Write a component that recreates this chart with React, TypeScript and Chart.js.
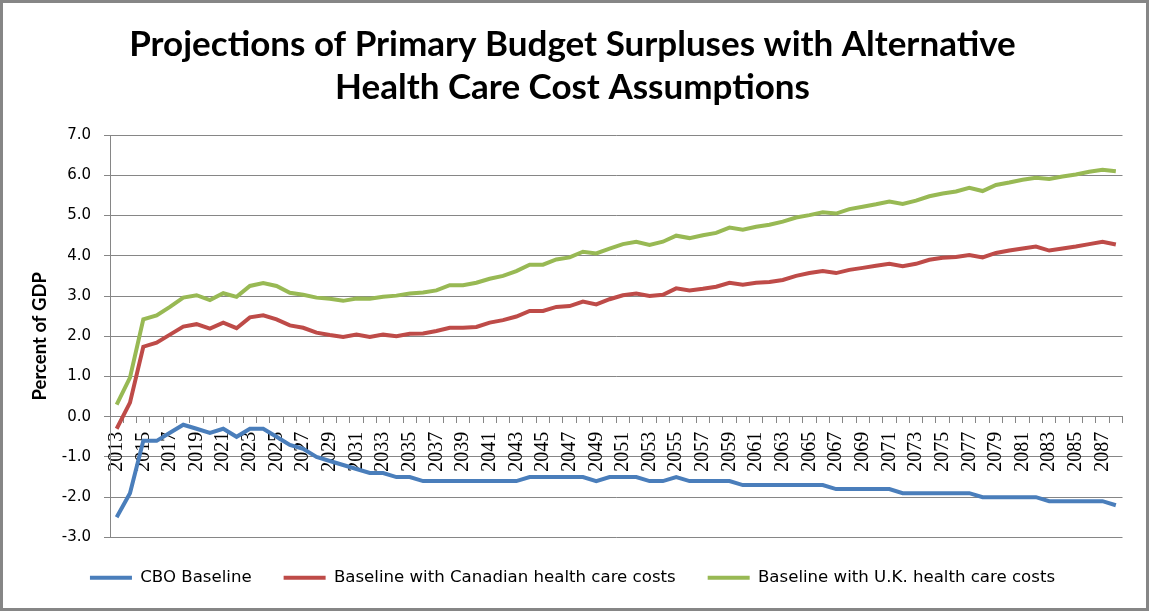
import React, { useEffect, useRef } from "react";
import { Chart, registerables } from "chart.js";

Chart.register(...registerables);

const years = [
  "2013", "2014", "2015", "2016", "2017", "2018", "2019", "2020", "2021", "2022",
  "2023", "2024", "2025", "2026", "2027", "2028", "2029", "2030", "2031", "2032",
  "2033", "2034", "2035", "2036", "2037", "2038", "2039", "2040", "2041", "2042",
  "2043", "2044", "2045", "2046", "2047", "2048", "2049", "2050", "2051", "2052",
  "2053", "2054", "2055", "2056", "2057", "2058", "2059", "2060", "2061", "2062",
  "2063", "2064", "2065", "2066", "2067", "2068", "2069", "2070", "2071", "2072",
  "2073", "2074", "2075", "2076", "2077", "2078", "2079", "2080", "2081", "2082",
  "2083", "2084", "2085", "2086", "2087", "2088",
];

const cboBaseline = [
  -2.5, -1.9, -0.6, -0.6, -0.4, -0.2, -0.3, -0.4, -0.3, -0.5,
  -0.3, -0.3, -0.5, -0.7, -0.8, -1.0, -1.1, -1.2, -1.3, -1.4,
  -1.4, -1.5, -1.5, -1.6, -1.6, -1.6, -1.6, -1.6, -1.6, -1.6,
  -1.6, -1.5, -1.5, -1.5, -1.5, -1.5, -1.6, -1.5, -1.5, -1.5,
  -1.6, -1.6, -1.5, -1.6, -1.6, -1.6, -1.6, -1.7, -1.7, -1.7,
  -1.7, -1.7, -1.7, -1.7, -1.8, -1.8, -1.8, -1.8, -1.8, -1.9,
  -1.9, -1.9, -1.9, -1.9, -1.9, -2.0, -2.0, -2.0, -2.0, -2.0,
  -2.1, -2.1, -2.1, -2.1, -2.1, -2.2,
];

const canadianCosts = [
  -0.3, 0.35, 1.74, 1.84, 2.04, 2.24, 2.3, 2.19, 2.34, 2.2,
  2.47, 2.52, 2.42, 2.27, 2.21, 2.09, 2.03, 1.98, 2.04, 1.98,
  2.04, 2.0, 2.06, 2.07, 2.13, 2.21, 2.21, 2.23, 2.34, 2.4,
  2.49, 2.63, 2.63, 2.73, 2.75, 2.86, 2.79, 2.92, 3.02, 3.06,
  3.0, 3.03, 3.19, 3.14, 3.18, 3.23, 3.33, 3.28, 3.33, 3.35,
  3.4, 3.5, 3.57, 3.62, 3.57, 3.65, 3.7, 3.75, 3.8, 3.74,
  3.8, 3.9, 3.95, 3.97, 4.02, 3.96, 4.07, 4.13, 4.18, 4.23,
  4.13, 4.18, 4.23, 4.29, 4.35, 4.28,
];

const ukCosts = [
  0.3, 0.97, 2.42, 2.52, 2.73, 2.96, 3.02, 2.9, 3.07, 2.98,
  3.25, 3.32, 3.25, 3.08, 3.03, 2.96, 2.93, 2.88, 2.94, 2.93,
  2.98, 3.01, 3.06, 3.09, 3.14, 3.27, 3.27, 3.33, 3.43, 3.5,
  3.62, 3.78, 3.78, 3.91, 3.96, 4.1, 4.06, 4.18, 4.29, 4.35,
  4.27, 4.35, 4.5, 4.44, 4.51, 4.57, 4.7, 4.65, 4.72, 4.77,
  4.85, 4.95, 5.01, 5.08, 5.05, 5.16, 5.22, 5.28, 5.35, 5.29,
  5.37, 5.48, 5.55, 5.6, 5.69, 5.61, 5.76, 5.82, 5.89, 5.94,
  5.91, 5.97, 6.02, 6.09, 6.14, 6.1,
];

const seriesNames = [
  "CBO Baseline",
  "Baseline with Canadian health care costs",
  "Baseline with U.K. health care costs",
];
const seriesColors = ["#4A7EBB", "#BE4B48", "#98B954"];
const titleLines = [
  "Projections of Primary Budget Surpluses with Alternative",
  "Health Care Cost Assumptions",
];
const yAxisTitle = "Percent of GDP";

const framePlugin = {
  id: "frame",
  beforeDraw(chart: any) {
    const ctx = chart.ctx;
    ctx.save();
    ctx.fillStyle = "#ffffff";
    ctx.fillRect(0, 0, chart.width, chart.height);
    ctx.restore();
  },
  afterDraw(chart: any) {
    const ctx = chart.ctx;
    ctx.save();
    ctx.strokeStyle = "#868686";
    ctx.lineWidth = 3;
    ctx.strokeRect(1.5, 1.5, chart.width - 3, chart.height - 3);
    ctx.restore();
  },
};

export default function App() {
  const ref = useRef<HTMLCanvasElement>(null);

  useEffect(() => {
    document.body.style.margin = "0";
    const canvas = ref.current;
    if (!canvas) return;
    const allSeries = [cboBaseline, canadianCosts, ukCosts];
    const chart = new Chart(canvas, {
      type: "line",
      data: {
        labels: years,
        datasets: allSeries.map((d, i) => ({
          label: seriesNames[i],
          data: d,
          borderColor: seriesColors[i],
          backgroundColor: seriesColors[i],
          borderWidth: 4,
          pointRadius: 0,
          tension: 0,
          fill: false,
        })),
      },
      options: {
        responsive: false,
        animation: false,
        devicePixelRatio: 1,
        layout: { padding: { left: 20, right: 24, top: 0, bottom: 15 } },
        plugins: {
          title: {
            display: true,
            text: titleLines,
            color: "#000000",
            font: { family: "Lato", weight: "bold", size: 35, lineHeight: 1.23 },
            padding: { top: 23, bottom: 26 },
          },
          legend: {
            position: "bottom",
            labels: {
              usePointStyle: true,
              pointStyle: "line",
              pointStyleWidth: 42,
              color: "#000000",
              font: { family: "DejaVu Sans", size: 16.6 },
              padding: 32,
            },
          },
          tooltip: { enabled: false },
        },
        scales: {
          x: {
            type: "category",
            offset: true,
            position: { y: 0 } as any,
            grid: {
              drawOnChartArea: false,
              offset: true,
              tickLength: 6,
              color: "#868686",
            },
            border: { color: "#868686" },
            ticks: {
              autoSkip: false,
              maxRotation: 90,
              minRotation: 90,
              padding: 9,
              color: "#000000",
              font: { family: "Liberation Serif", size: 20 },
              callback: (_v: any, i: number) => (i % 2 === 0 ? years[i] : ""),
            },
          },
          y: {
            min: -3,
            max: 7,
            ticks: {
              stepSize: 1,
              padding: 13,
              color: "#000000",
              font: { family: "DejaVu Sans", size: 15 },
              callback: (v: any) => Number(v).toFixed(1),
            },
            grid: { color: "#868686", tickLength: 6 },
            border: { color: "#868686" },
            title: {
              display: true,
              text: yAxisTitle,
              color: "#000000",
              font: { family: "Lato", weight: "bold", size: 18.5 },
              padding: { top: 9, bottom: 0 },
            },
            afterFit: (s: any) => {
              s.width = 90;
            },
          },
        },
      },
      plugins: [framePlugin],
    } as any);
    return () => chart.destroy();
  }, []);

  return (
    <canvas
      ref={ref}
      width={1149}
      height={611}
      style={{ display: "block", width: 1149, height: 611 }}
    />
  );
}
